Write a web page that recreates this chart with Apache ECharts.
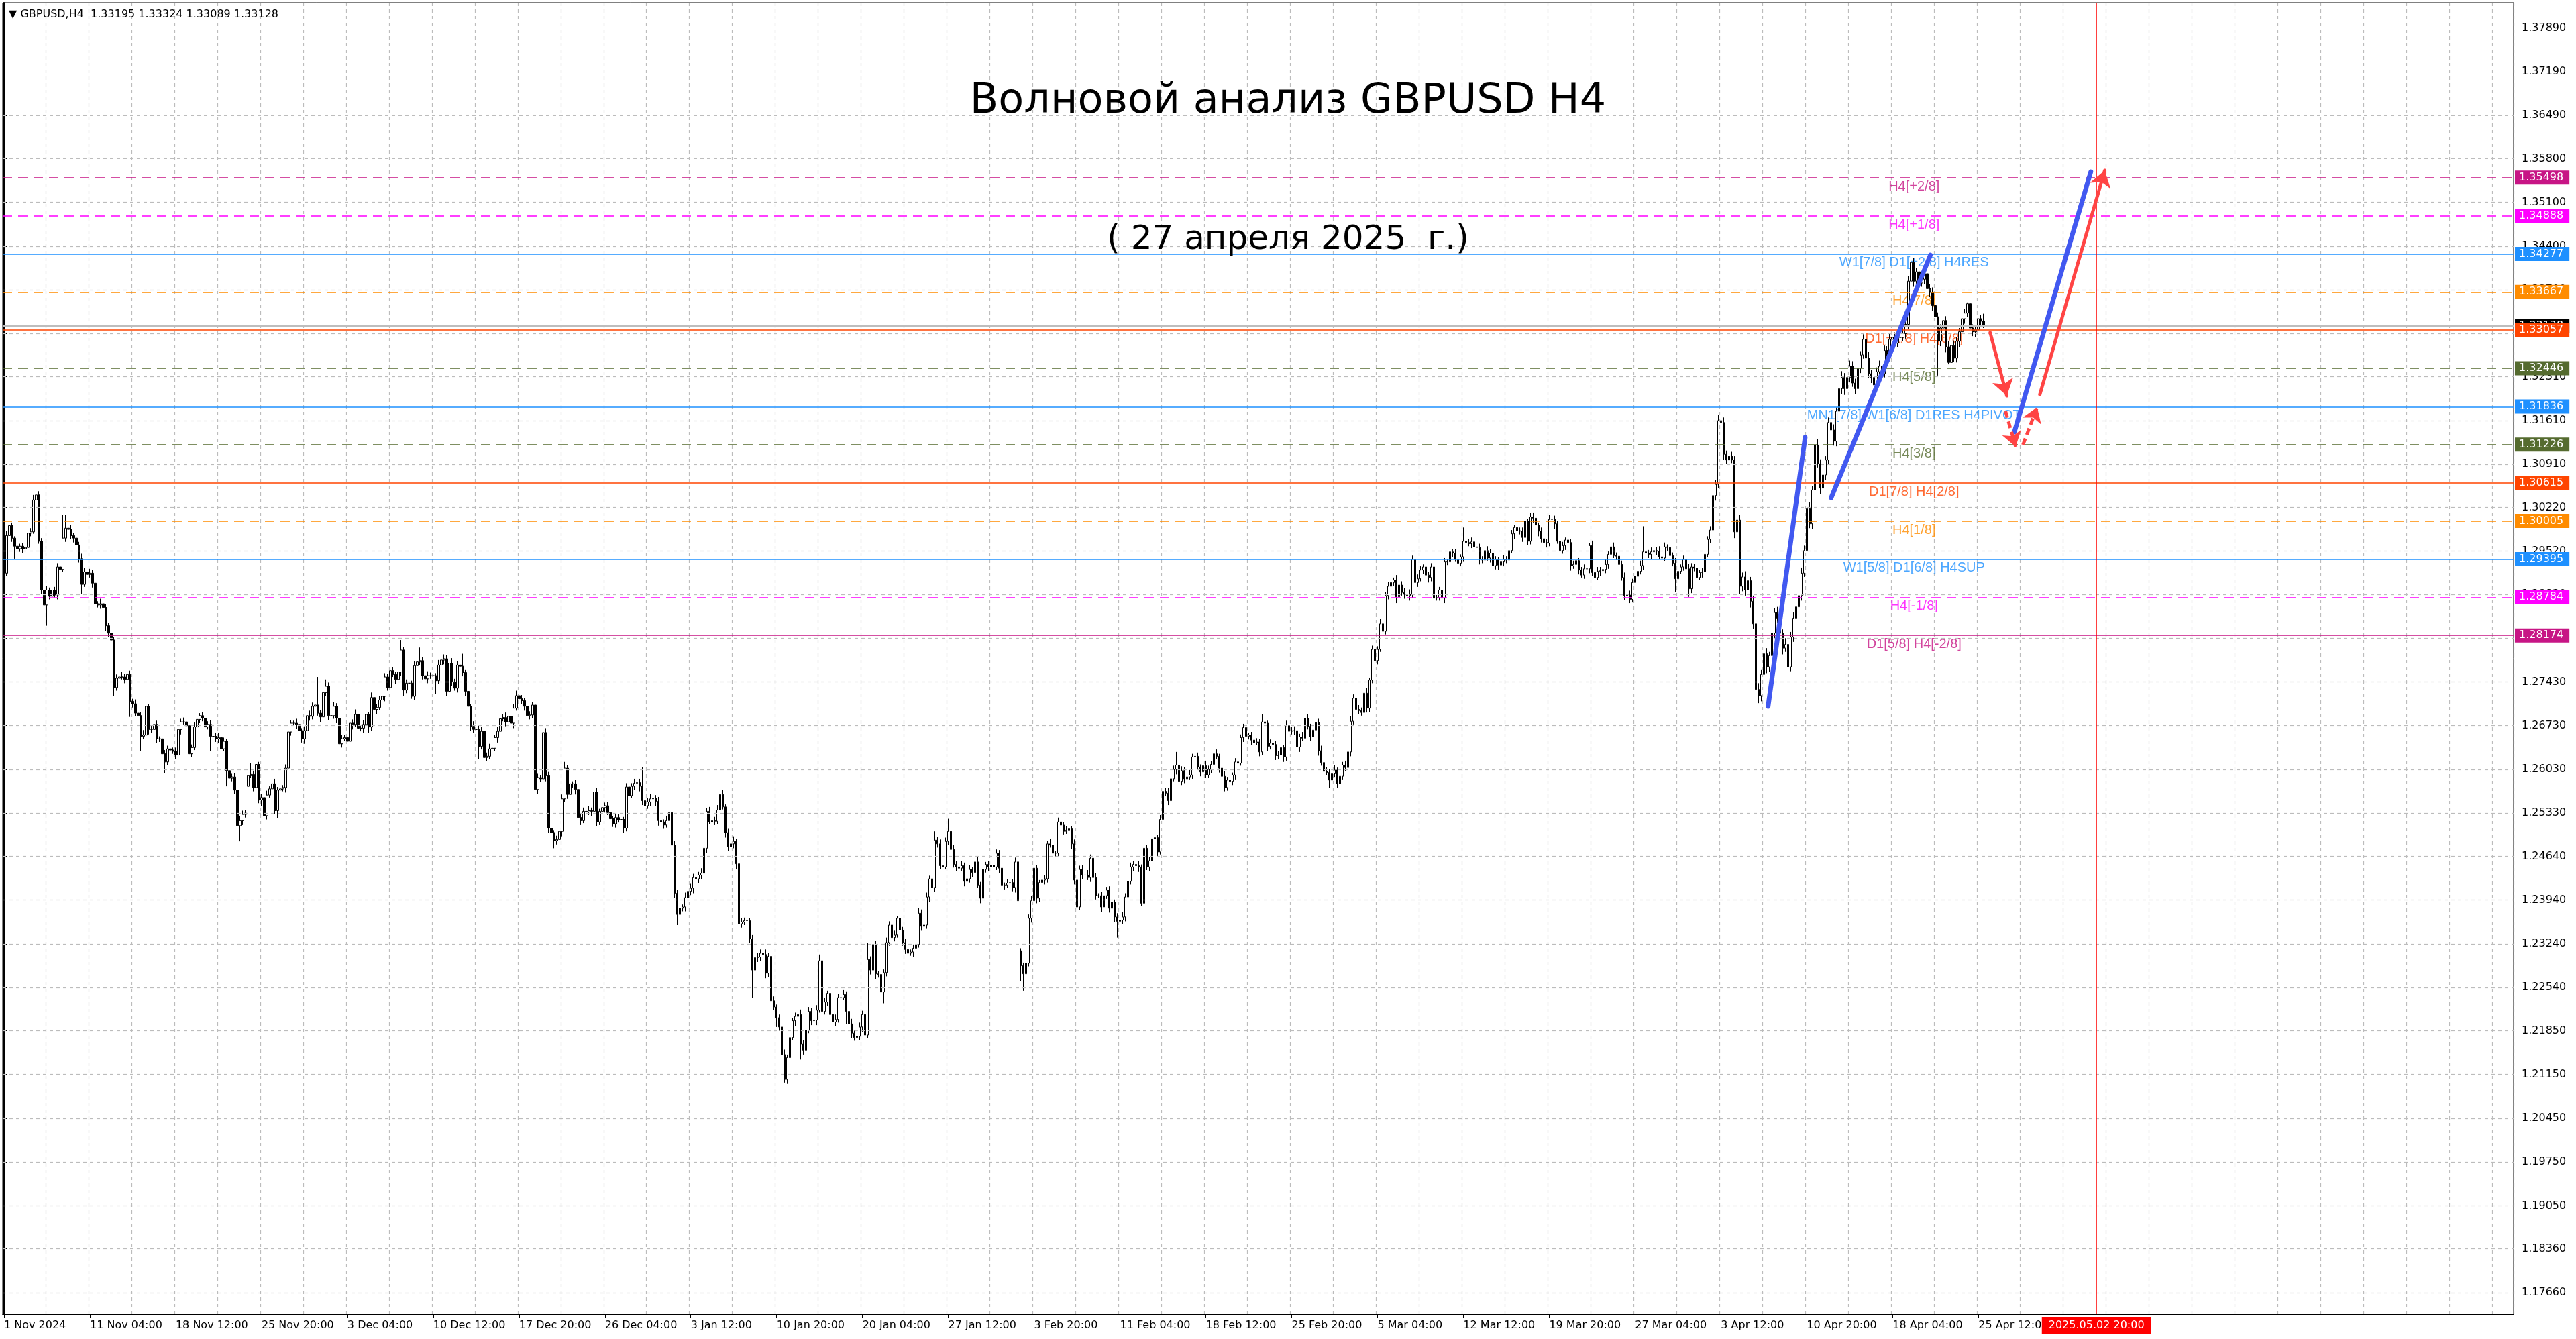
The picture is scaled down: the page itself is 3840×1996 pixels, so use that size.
<!DOCTYPE html>
<html>
<head>
<meta charset="utf-8">
<title>GBPUSD H4</title>
<script src="https://cdn.jsdelivr.net/npm/echarts@6/dist/echarts.min.js"></script>
<style>
html, body { margin: 0; padding: 0; background: #fff; }
#chart { width: 3840px; height: 1996px; }
</style>
</head>
<body>
<div id="chart"></div>
<script>
// H4 closes, in 1e-4 units (12917 = 1.2917), bar 0 = 1 Nov 2024
const closeTicks = [
  12917,12977,12993,12973,12960,12956,12960,12956,12958,12981,
  12983,13034,13042,12968,12890,12866,12890,12880,12890,12882,
  12927,12923,12973,12989,12987,12977,12973,12962,12940,12899,
  12919,12915,12917,12901,12868,12866,12868,12862,12833,12821,
  12810,12734,12749,12751,12751,12747,12755,12712,12708,12693,
  12689,12656,12658,12704,12667,12667,12675,12652,12652,12628,
  12615,12636,12634,12632,12626,12667,12679,12679,12673,12628,
  12638,12671,12683,12689,12685,12671,12675,12656,12656,12652,
  12654,12636,12648,12601,12589,12591,12570,12513,12521,12531,
  12533,12593,12595,12574,12611,12554,12558,12529,12562,12572,
  12580,12537,12570,12572,12574,12605,12663,12677,12677,12675,
  12665,12652,12665,12689,12688,12704,12706,12693,12687,12726,
  12736,12689,12689,12704,12685,12644,12652,12654,12648,12677,
  12675,12691,12669,12669,12675,12691,12671,12718,12699,12702,
  12714,12720,12751,12734,12761,12755,12747,12759,12794,12730,
  12741,12741,12720,12769,12775,12777,12753,12748,12753,12753,
  12753,12745,12770,12778,12780,12728,12773,12743,12733,12770,
  12768,12758,12728,12704,12672,12667,12667,12640,12664,12622,
  12624,12636,12637,12654,12664,12684,12686,12679,12688,12677,
  12701,12721,12716,12713,12704,12689,12690,12706,12571,12590,
  12588,12662,12593,12509,12502,12489,12491,12504,12556,12605,
  12563,12580,12580,12571,12526,12521,12536,12535,12537,12536,
  12567,12519,12536,12542,12545,12534,12524,12516,12526,12522,
  12523,12509,12575,12561,12576,12581,12582,12576,12553,12545,
  12551,12556,12557,12552,12521,12519,12514,12521,12534,12482,
  12405,12371,12381,12383,12398,12408,12413,12430,12428,12434,
  12437,12477,12536,12519,12521,12520,12538,12563,12543,12502,
  12479,12484,12488,12452,12356,12359,12361,12361,12332,12282,
  12302,12303,12309,12307,12277,12304,12233,12223,12206,12191,
  12147,12107,12142,12174,12201,12208,12211,12164,12154,12186,
  12216,12201,12202,12218,12297,12216,12231,12245,12211,12199,
  12203,12238,12238,12243,12216,12196,12181,12174,12176,12191,
  12211,12178,12299,12282,12323,12276,12275,12247,12278,12326,
  12354,12334,12338,12365,12346,12326,12315,12309,12311,12317,
  12323,12373,12352,12354,12399,12428,12414,12490,12484,12449,
  12447,12488,12504,12475,12451,12447,12445,12449,12424,12428,
  12443,12438,12455,12418,12397,12443,12451,12447,12450,12447,
  12469,12445,12418,12418,12421,12422,12414,12455,12393,12289,
  12276,12293,12365,12393,12445,12397,12422,12426,12428,12484,
  12482,12469,12469,12519,12514,12504,12506,12508,12484,12426,
  12383,12443,12434,12434,12430,12461,12430,12401,12401,12383,
  12401,12410,12381,12391,12367,12360,12362,12367,12399,12424,
  12447,12451,12449,12447,12389,12477,12447,12457,12492,12494,
  12471,12523,12568,12565,12553,12588,12603,12610,12584,12601,
  12588,12591,12594,12623,12624,12607,12599,12609,12594,12603,
  12611,12628,12624,12605,12592,12574,12586,12584,12594,12615,
  12613,12654,12670,12656,12658,12650,12646,12647,12631,12679,
  12677,12640,12645,12643,12625,12626,12638,12623,12673,12664,
  12665,12665,12639,12655,12653,12685,12672,12655,12666,12678,
  12633,12614,12600,12598,12586,12596,12602,12580,12592,12610,
  12606,12631,12680,12717,12699,12697,12694,12725,12701,12746,
  12795,12777,12795,12836,12824,12881,12896,12902,12906,12879,
  12898,12886,12883,12881,12883,12939,12902,12908,12922,12927,
  12914,12910,12927,12877,12878,12890,12877,12935,12935,12951,
  12949,12939,12933,12943,12968,12966,12964,12967,12959,12958,
  12939,12938,12953,12941,12949,12929,12939,12930,12935,12939,
  12938,12953,12980,12990,12985,12984,12974,13000,12968,13007,
  13005,12994,12984,12972,12966,12965,13003,13003,12996,12968,
  12953,12961,12970,12966,12929,12931,12937,12922,12914,12924,
  12924,12961,12918,12910,12920,12921,12923,12931,12947,12959,
  12945,12944,12931,12910,12881,12882,12875,12902,12912,12920,
  12929,12951,12949,12947,12951,12953,12952,12943,12941,12959,
  12958,12945,12933,12908,12920,12927,12939,12924,12892,12927,
  12925,12910,12918,12919,12947,12971,12986,13041,13059,13161,
  13158,13107,13098,13104,13098,12983,13002,12896,12911,12890,
  12905,12872,12836,12731,12721,12755,12788,12767,12785,12821,
  12854,12845,12821,12797,12803,12767,12815,12845,12863,12881,
  12917,12953,13020,12996,13050,13122,13092,13053,13074,13098,
  13158,13146,13128,13176,13212,13230,13212,13230,13248,13221,
  13212,13245,13266,13291,13261,13236,13230,13218,13239,13248,
  13236,13273,13263,13291,13294,13285,13294,13294,13300,13315,
  13384,13414,13384,13399,13381,13387,13396,13372,13366,13345,
  13327,13288,13309,13321,13279,13254,13281,13261,13288,13303,
  13324,13333,13348,13309,13303,13306,13324,13320,13313
];

// upper shadow above the body, 1e-4 units
const wickUp = [
  4,7,6,5,3,6,4,5,7,4, 6,8,4,6,5,7,6,4,8,5, 6,4,37,21,5,7,4,6,5,8, 6,4,7,5,6,4,8,5,6,4,
  7,5,6,4,8,5,14,6,4,7, 5,6,8,16,4,7,5,6,4,8, 6,5,7,4,6,8,5,7,4,6, 5,7,8,4,6,31,5,7,4,6,
  8,5,6,4,7,5,6,4,8,6, 5,7,18,6,8,4,6,5,7,4, 6,8,5,7,4,6,9,5,4,7, 6,4,7,5,8,6,4,45,5,8,
  11,6,4,7,5,8,6,4,7,5, 6,8,4,5,7,6,4,8,5,6, 7,4,6,5,8,6,4,7,16,5, 6,8,4,7,5,21,6,4,7,5,
  6,4,8,5,7,6,4,8,5,6, 7,20,5,6,4,8,5,6,7,4, 6,8,5,4,7,6,5,8,4,6, 7,8,5,6,4,7,6,5,8,6,
  4,5,7,6,8,4,6,5,7,10, 5,7,4,6,8,5,6,4,7,5, 8,6,4,7,5,6,8,4,6,5, 7,4,6,8,5,7,4,6,31,5,
  6,8,4,5,7,6,4,8,5,6, 7,5,6,4,8,5,7,6,4,5, 8,6,5,7,4,6,8,5,7,4, 6,5,8,4,7,6,5,8,4,6,
  5,7,6,4,8,5,6,7,4,5, 6,8,5,7,4,6,5,8,6,4, 7,5,6,8,10,5,7,4,6,5, 8,6,4,7,5,6,8,4,5,7,
  6,4,27,5,23,6,4,7,5,8, 6,5,7,4,8,5,6,7,4,6, 5,8,6,4,7,5,6,14,5,7, 4,6,20,5,7,6,4,8,5,6,
  7,4,6,8,5,7,4,6,5,8, 6,5,7,4,6,8,5,7,6,4, 5,7,6,8,10,5,4,7,6,5, 8,6,4,7,31,5,6,8,4,7,
  5,6,7,4,8,6,5,7,4,6, 8,5,6,7,4,6,5,8,6,4, 7,5,6,8,4,7,5,6,8,5, 4,7,6,5,8,4,6,21,5,7,
  6,4,8,5,7,6,4,5,8,6, 5,12,7,4,6,8,5,7,4,6, 8,5,6,7,4,5,8,6,5,13, 7,4,6,8,5,6,7,4,8,5,
  6,7,4,5,8,32,6,4,7,5, 6,8,4,7,5,6,8,4,6,5, 7,5,8,6,4,7,5,6,8,4, 6,7,5,8,4,6,7,5,4,8,
  5,6,7,4,8,6,5,7,6,4, 8,5,6,7,4,5,8,6,4,7, 5,6,8,4,22,5,6,7,4,8, 6,5,4,7,6,8,5,4,6,7,
  5,8,6,4,7,5,6,8,4,6, 7,5,4,6,8,5,7,4,6,5, 8,6,4,7,5,6,8,4,5,7, 6,4,8,5,7,6,4,8,5,6,
  7,5,4,6,8,5,7,6,4,5, 8,41,6,5,7,4,6,8,5,7, 4,6,5,8,7,4,6,5,8,6, 5,7,4,6,8,5,6,4,7,9,
  51,8,6,9,7,6,10,8,7,9, 8,6,9,7,10,8,7,9,6,8, 7,9,8,6,10,7,8,9,6,7, 9,8,7,10,6,8,9,7,8,6,
  8,7,9,6,8,10,7,6,9,8, 7,9,6,8,7,10,6,8,7,9, 6,8,7,9,6,8,7,6,9,7, 8,4,7,6,9,7,8,6,7,8,
  9,7,6,8,7,9,6,8,7,6, 8,7,2,9,6,8,7,6,12
];

// lower shadow below the body, 1e-4 units
const wickDown = [
  3,5,4,6,20,20,5,7,4,6, 5,3,6,4,7,21,33,5,6,4, 7,5,4,6,3,5,7,4,6,15, 4,6,5,7,10,4,6,5,8,6,
  18,14,5,7,4,6,3,25,6,5, 7,24,4,6,8,5,4,7,5,6, 18,5,7,4,6,5,8,4,6,15, 5,4,7,6,5,8,4,24,6,5,
  7,6,4,25,8,5,6,23,25,7, 5,8,4,6,7,5,9,23,6,4, 7,5,12,6,4,8,5,6,4,7, 5,6,8,4,7,5,6,4,8,5,
  6,7,4,5,8,27,6,4,7,5, 8,4,6,5,7,4,9,6,5,7, 4,6,8,5,6,4,7,5,6,9, 5,7,4,6,8,5,6,4,7,5,
  6,21,5,4,7,8,5,6,4,7, 5,6,8,4,7,5,6,20,5,12, 6,4,7,5,8,6,4,7,5,6, 8,4,6,5,7,4,6,5,8,7,
  5,6,9,7,5,12,6,4,8,5, 7,4,6,8,5,7,4,6,5,8, 4,7,5,6,8,4,7,5,6,4, 6,8,5,7,4,6,5,8,7,39,
  5,6,4,7,8,5,6,4,7,9, 8,17,6,5,7,4,6,8,5,7, 6,5,8,4,7,6,5,7,4,8, 6,5,7,9,34,6,5,8,7,44,
  5,7,6,4,8,6,7,5,15,6, 8,5,7,6,4,8,5,25,7,6, 5,7,6,8,4,7,5,6,8,7, 6,5,7,4,20,6,8,5,7,6,
  8,10,5,7,6,8,5,12,18,6, 5,7,6,4,8,5,7,6,4,8, 6,5,7,4,6,8,5,7,6,5, 7,4,6,8,5,7,6,4,8,5,
  6,7,5,4,8,6,5,7,4,6, 5,8,6,7,4,5,6,8,7,25, 27,6,5,7,4,8,6,5,7,6, 4,8,5,6,7,5,4,6,8,7,
  23,5,6,8,4,7,5,6,4,8, 6,5,7,4,8,26,5,6,7,4, 5,7,6,8,4,6,5,7,6,5, 8,4,6,5,7,6,4,8,5,6,
  7,5,4,6,8,5,7,6,4,5, 6,8,5,7,4,6,5,8,6,7, 5,4,7,6,5,8,6,4,7,5, 6,8,5,4,7,6,5,8,6,4,
  5,7,6,8,4,6,5,7,4,6, 8,5,6,4,13,7,5,6,21,5, 6,4,7,5,8,6,5,4,7,6, 5,8,6,4,7,5,6,8,5,10,
  6,5,7,4,8,6,5,7,4,6, 5,8,6,7,4,5,6,8,5,7, 6,4,7,5,8,6,4,7,5,6, 8,5,6,4,7,5,6,8,4,7,
  5,6,4,8,6,5,7,4,6,5, 7,5,8,6,4,7,5,6,8,4, 6,5,7,4,8,5,6,7,4,6, 5,7,6,16,4,8,5,6,7,5,
  4,6,8,5,7,4,6,5,8,6, 5,7,4,6,8,5,6,4,7,5, 6,8,5,21,7,4,6,5,13,7, 5,6,4,8,7,5,6,4,8,6,
  7,9,6,8,5,10,7,12,8,9, 7,10,8,22,12,9,7,10,8,6, 9,7,8,10,6,9,7,8,6,9, 8,6,9,7,8,10,6,9,7,8,
  6,9,7,8,6,9,10,7,8,6, 9,7,8,6,10,7,9,8,6,7, 8,6,9,7,8,6,7,9,6,8, 7,6,9,8,7,6,8,9,7,8,
  6,55,8,7,9,3,8,6,7,9, 7,8,6,9,7,8,6,7,4
];

// bars whose open is not the previous close (first bar, weekend gaps)
const gapOpens = [[0, 12927], [91, 12576], [379, 12313]];

// time axis labels: [bar index, text]
const timeLabels = [
  [0, '1 Nov 2024'], [32, '11 Nov 04:00'], [64, '18 Nov 12:00'], [96, '25 Nov 20:00'],
  [128, '3 Dec 04:00'], [160, '10 Dec 12:00'], [192, '17 Dec 20:00'], [224, '26 Dec 04:00'],
  [256, '3 Jan 12:00'], [288, '10 Jan 20:00'], [320, '20 Jan 04:00'], [352, '27 Jan 12:00'],
  [384, '3 Feb 20:00'], [416, '11 Feb 04:00'], [448, '18 Feb 12:00'], [480, '25 Feb 20:00'],
  [512, '5 Mar 04:00'], [544, '12 Mar 12:00'], [576, '19 Mar 20:00'], [608, '27 Mar 04:00'],
  [640, '3 Apr 12:00'], [672, '10 Apr 20:00'], [704, '18 Apr 04:00'], [736, '25 Apr 12:00']
];
const cursorBar = 780;
const cursorLabel = '2025.05.02 20:00';

// price scale labels
const priceTicks = [
  1.37890, 1.37190, 1.36490, 1.35800, 1.35100, 1.34400, 1.33700, 1.33000, 1.32310, 1.31610,
  1.30910, 1.30220, 1.29520, 1.28830, 1.28130, 1.27430, 1.26730, 1.26030, 1.25330, 1.24640,
  1.23940, 1.23240, 1.22540, 1.21850, 1.21150, 1.20450, 1.19750, 1.19050, 1.18360, 1.17660
];

// Murrey math levels
const levelPrices = [1.35498, 1.34888, 1.34277, 1.33667, 1.33057, 1.32446, 1.31836,
                     1.31226, 1.30615, 1.30005, 1.29395, 1.28784, 1.28174];
const levelNames = ['H4[+2/8]', 'H4[+1/8]', 'W1[7/8] D1[+2/8] H4RES', 'H4[7/8]',
  'D1[+1/8] H4[6/8]', 'H4[5/8]', 'MN1[7/8] W1[6/8] D1RES H4PIVOT', 'H4[3/8]',
  'D1[7/8] H4[2/8]', 'H4[1/8]', 'W1[5/8] D1[6/8] H4SUP', 'H4[-1/8]', 'D1[5/8] H4[-2/8]'];
const bidPrice = 1.33128;
const headerText = '\u25BC GBPUSD,H4  1.33195 1.33324 1.33089 1.33128';

// hand-drawn wave marks: [bar, price] pairs
const blueStrokes = [
  [[657.6, 1.27038], [671.4, 1.31341]],
  [[681.1, 1.30375], [718.1, 1.34258]],
  [[749.4, 1.31427], [777.9, 1.35590]]
];
const redArrows = [
  [[740.4, 1.33015], [746.6, 1.32006]],
  [[758.9, 1.32028], [783.1, 1.35612]]
];
const redDashArrows = [
  [[746.1, 1.31760], [749.9, 1.31191]],
  [[752.6, 1.31223], [757.9, 1.31824]]
];

// styles
const SLOTS = 936;
const LABEL_BAR = 712;
const FONT = 'DejaVu Sans';
const C = { vio: '#C71585', mag: '#FF00FF', blue: '#1E90FF', orange: '#FF8C00', red: '#FF4500', olive: '#556B2F' };
const levelStyle = [
  [C.vio, 'dash', 1.6], [C.mag, 'dash', 1.6], [C.blue, 'solid', 1.6], [C.orange, 'dash', 1.6],
  [C.red, 'solid', 1.6], [C.olive, 'dash', 1.6], [C.blue, 'solid', 2.6], [C.olive, 'dash', 1.6],
  [C.red, 'solid', 1.6], [C.orange, 'dash', 1.6], [C.blue, 'solid', 1.6], [C.mag, 'dash', 1.6], [C.vio, 'solid', 1.6]
];

const labelAt = new Map(timeLabels);
const categories = [];
for (let i = 0; i < SLOTS; i++) categories.push(String(i));

const gapMap = new Map(gapOpens);
const candles = closeTicks.map((c, i) => {
  const o = gapMap.has(i) ? gapMap.get(i) : closeTicks[i - 1];
  const hi = Math.max(o, c) + wickUp[i];
  const lo = Math.min(o, c) - wickDown[i];
  return [o / 10000, c / 10000, lo / 10000, hi / 10000];
});

const boxLabel = (price, bg) => ({
  show: true, position: 'end', distance: 2,
  formatter: price.toFixed(5), color: '#fff', backgroundColor: bg,
  padding: [3, 9, 2, 6], fontSize: 16, fontFamily: FONT
});

const levelLines = [{
  yAxis: bidPrice,
  lineStyle: { color: '#bdbdbd', width: 2, type: 'solid', opacity: 1 },
  label: boxLabel(bidPrice, '#000')
}].concat(levelPrices.map((p, i) => ({
  yAxis: p,
  lineStyle: { color: levelStyle[i][0], width: levelStyle[i][2], type: levelStyle[i][1] === 'dash' ? [14, 9] : 'solid', opacity: 1 },
  label: boxLabel(p, levelStyle[i][0])
})));

const chart = echarts.init(document.getElementById('chart'));
chart.setOption({
  animation: false,
  backgroundColor: '#fff',
  title: [
    { text: headerText, left: 8, top: 9, textStyle: { fontSize: 16, fontWeight: 'normal', fontFamily: FONT, color: '#000' } },
    { text: 'Волновой анализ GBPUSD H4', left: 'center', top: 116, textStyle: { fontSize: 62, fontWeight: 'normal', fontFamily: FONT, color: '#000' } },
    { text: '( 27 апреля 2025  г.)', left: 'center', top: 328, textStyle: { fontSize: 50, fontWeight: 'normal', fontFamily: FONT, color: '#000' } }
  ],
  grid: { left: 4, right: 93, top: 4, bottom: 37, show: true, borderColor: '#000', borderWidth: 1 },
  xAxis: [{
    type: 'category', data: categories, boundaryGap: true,
    axisLine: { lineStyle: { color: '#000', width: 2 } },
    axisTick: { show: true, alignWithLabel: true, length: 5, interval: (i) => labelAt.has(i), lineStyle: { color: '#000' } },
    axisLabel: {
      interval: (i) => labelAt.has(i), formatter: (v) => labelAt.get(Number(v)) || '',
      align: 'left', color: '#000', fontSize: 16, fontFamily: FONT, margin: 9
    },
    splitLine: { show: true, interval: (i) => i > 0 && i % 16 === 0, lineStyle: { color: '#bcbcbc', type: [5, 5], width: 1.2 } }
  }, {
    type: 'value', min: -0.5, max: SLOTS - 0.5, show: false
  }],
  yAxis: {
    type: 'value', position: 'right', min: 1.17316, max: 1.38295, scale: true,
    axisLine: { show: true, lineStyle: { color: '#000', width: 2 } },
    axisTick: { show: true, length: 5, customValues: priceTicks, lineStyle: { color: '#000' } },
    axisLabel: { customValues: priceTicks, formatter: (v) => v.toFixed(5), color: '#000', fontSize: 16, fontFamily: FONT, margin: 12 },
    splitLine: { show: false }
  },
  series: [
    {
      type: 'line', xAxisIndex: 1, data: [], z: 1,
      markLine: {
        silent: true, symbol: 'none', animation: false, precision: 6, label: { show: false },
        lineStyle: { color: '#bcbcbc', type: [5, 5], width: 1.2 },
        data: priceTicks.map((v) => ({ yAxis: v }))
      }
    },
    {
      type: 'line', xAxisIndex: 1, data: [], z: 3,
      markLine: { silent: true, symbol: 'none', animation: false, precision: 6, data: levelLines }
    },
    {
      type: 'scatter', xAxisIndex: 1, z: 2, symbolSize: 1, silent: true,
      itemStyle: { color: 'transparent' },
      label: { show: true, position: 'bottom', distance: 3, fontSize: 20, fontFamily: 'Liberation Sans', formatter: (p) => p.name },
      data: levelPrices.map((p, i) => ({ value: [LABEL_BAR, p], name: levelNames[i], label: { color: levelStyle[i][0] } }))
    },
    {
      type: 'candlestick', xAxisIndex: 0, data: candles, z: 4,
      barWidth: 3, large: false, progressive: 0,
      itemStyle: { color: '#fff', color0: '#000', borderColor: '#000', borderColor0: '#000', borderWidth: 1 }
    },
    {
      type: 'line', xAxisIndex: 1, data: [], z: 5,
      markLine: {
        silent: true, symbol: 'none', animation: false, precision: 6,
        data: [{
          xAxis: cursorBar,
          lineStyle: { color: '#ff0000', width: 1.5, type: 'solid', opacity: 1 },
          label: { show: true, position: 'start', distance: 4, formatter: cursorLabel, color: '#fff', backgroundColor: '#ff0000', padding: [5, 10, 4, 10], fontSize: 16, fontFamily: FONT }
        }]
      }
    },
    {
      type: 'lines', coordinateSystem: 'cartesian2d', xAxisIndex: 1, yAxisIndex: 0, z: 6, silent: true,
      symbol: 'none', lineStyle: { color: '#4158F0', width: 7, cap: 'round', opacity: 1 },
      data: blueStrokes.map((c) => ({ coords: c }))
    },
    {
      type: 'lines', coordinateSystem: 'cartesian2d', xAxisIndex: 1, yAxisIndex: 0, z: 7, silent: true,
      symbol: ['none', 'arrow'], symbolSize: 24,
      lineStyle: { color: '#FF4444', width: 5, cap: 'round', opacity: 1 },
      data: redArrows.map((c) => ({ coords: c }))
    },
    {
      type: 'lines', coordinateSystem: 'cartesian2d', xAxisIndex: 1, yAxisIndex: 0, z: 7, silent: true,
      symbol: ['none', 'arrow'], symbolSize: 22,
      lineStyle: { color: '#FF4444', width: 5, type: [10, 6], opacity: 1 },
      data: redDashArrows.map((c) => ({ coords: c }))
    }
  ]
});
window.onresize = chart.resize;
</script>
</body>
</html>
